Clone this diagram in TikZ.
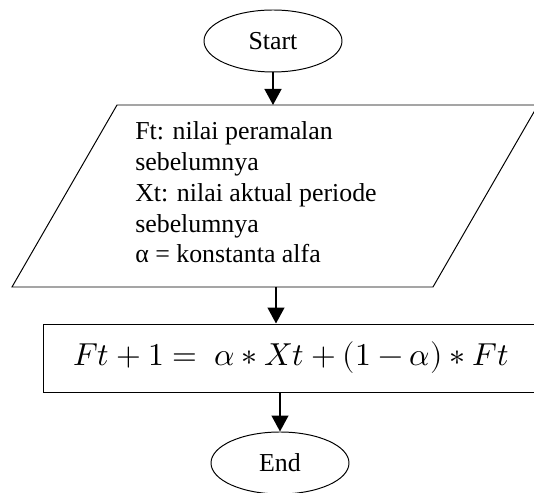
\documentclass[tikz,border=0pt]{standalone}
\usepackage{fontspec}
\usepackage{unicode-math}
\setmainfont{Liberation Serif}
\setmathfont{Latin Modern Math}
\usetikzlibrary{arrows.meta, shapes.geometric}

\begin{document}
\begin{tikzpicture}[
    >=Stealth,
    font=\fontsize{18.4}{22}\selectfont,
    term/.style={draw, ellipse, line width=0.7pt, minimum width=3.45cm, minimum height=1.55cm, inner sep=0pt},
    procbox/.style={draw, line width=0.7pt, minimum width=12.4cm, minimum height=1.7cm, inner sep=0pt},
    arr/.style={-{Triangle[length=0.4cm,width=0.42cm]}, line width=1.4pt}
]
\clip[use as bounding box] (0,0) rectangle (13.35,12.325);

% ================= START =================
\node[term] (start) at (6.825, 11.3) {Start};

% ================= INPUT (parallelogram) =================
\coordinate (inBL) at (0.3, 5.15);
\coordinate (inBR) at (10.825, 5.15);
\coordinate (inTR) at (13.45, 9.7);
\coordinate (inTL) at (2.925, 9.7);
\draw[line width=0.7pt] (inBL) -- (inBR) -- (inTR) -- (inTL) -- cycle;
\coordinate (inTop) at (6.825, 9.7);
\coordinate (inBot) at (6.9, 5.15);

\node[anchor=north west, align=left, inner sep=0pt] (input) at (3.375, 9.3)
    {Ft: nilai peramalan\\ sebelumnya\\ Xt: nilai aktual periode\\ sebelumnya\\ α = konstanta alfa};

% ================= PROCESS =================
\node[procbox] (proc) at (7.275, 3.375)
    {\fontsize{22.6}{26}\selectfont $Ft+1=\ \alpha\ast Xt+(1-\alpha)\ast Ft$};

% ================= END =================
\node[term] (end) at (7.0, 0.75) {End};

% Arrows
\draw[arr] (start.south) -- (inTop);
\draw[arr] (inBot) -- (inBot |- proc.north);
\draw[arr] (end.north |- proc.south) -- (end.north);

\end{tikzpicture}
\end{document}
